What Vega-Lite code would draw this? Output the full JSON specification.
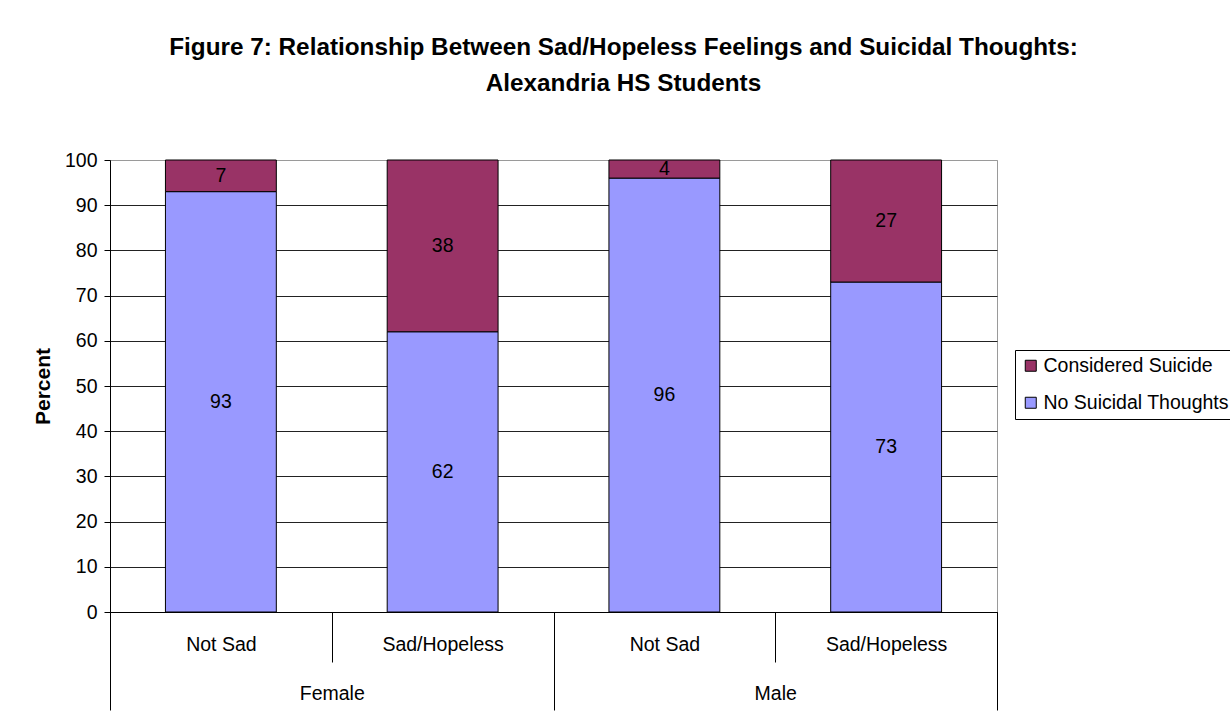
{
  "$schema": "https://vega.github.io/schema/vega-lite/v6.json",
  "width": 887,
  "height": 452,
  "autosize": {"type": "none"},
  "padding": {"left": 110, "top": 160, "right": 233, "bottom": 113},
  "background": "white",
  "title": {
    "text": [
      "Figure 7: Relationship Between Sad/Hopeless Feelings and Suicidal Thoughts:",
      "Alexandria HS Students"
    ],
    "font": "Liberation Sans",
    "fontSize": 24.3,
    "fontWeight": "bold",
    "color": "black",
    "lineHeight": 36,
    "limit": 1200,
    "anchor": "middle",
    "dx": 70,
    "offset": 54
  },
  "data": {
    "values": [
      {"gender": "Female", "mood": "Not Sad", "response": "No Suicidal Thoughts", "pct": 93},
      {"gender": "Female", "mood": "Not Sad", "response": "Considered Suicide", "pct": 7},
      {"gender": "Female", "mood": "Sad/Hopeless", "response": "No Suicidal Thoughts", "pct": 62},
      {"gender": "Female", "mood": "Sad/Hopeless", "response": "Considered Suicide", "pct": 38},
      {"gender": "Male", "mood": "Not Sad", "response": "No Suicidal Thoughts", "pct": 96},
      {"gender": "Male", "mood": "Not Sad", "response": "Considered Suicide", "pct": 4},
      {"gender": "Male", "mood": "Sad/Hopeless", "response": "No Suicidal Thoughts", "pct": 73},
      {"gender": "Male", "mood": "Sad/Hopeless", "response": "Considered Suicide", "pct": 27}
    ]
  },
  "transform": [
    {"calculate": "datum.gender + '|' + datum.mood", "as": "cell"},
    {
      "stack": "pct",
      "groupby": ["cell"],
      "sort": [{"field": "response", "order": "descending"}],
      "as": ["lo", "hi"]
    },
    {"calculate": "(datum.lo + datum.hi) / 2", "as": "mid"}
  ],
  "layer": [
    {
      "mark": {"type": "bar", "opacity": 0},
      "encoding": {
        "x": {
          "field": "gender",
          "type": "nominal",
          "scale": {"paddingInner": 0, "paddingOuter": 0},
          "axis": {
            "title": null,
            "orient": "bottom",
            "domain": false,
            "tickBand": "extent",
            "tickSize": 98,
            "tickColor": "black",
            "labelPadding": -26,
            "labelAngle": 0,
            "labelFontSize": 19.5,
            "labelColor": "black"
          }
        }
      }
    },
    {
      "encoding": {
        "x": {
          "field": "cell",
          "type": "nominal",
          "scale": {"paddingInner": 0, "paddingOuter": 0},
          "axis": {
            "title": null,
            "orient": "bottom",
            "labelExpr": "split(datum.label, '|')[1]",
            "tickBand": "extent",
            "tickSize": 50,
            "tickColor": "black",
            "domainColor": "black",
            "labelPadding": -27,
            "labelAngle": 0,
            "labelFontSize": 19.5,
            "labelColor": "black"
          }
        }
      },
      "layer": [
        {
          "mark": {"type": "bar", "width": {"band": 0.5}, "stroke": "black", "strokeWidth": 1},
          "encoding": {
            "y": {
              "field": "lo",
              "type": "quantitative",
              "title": "Percent",
              "scale": {"domain": [0, 100], "nice": false},
              "axis": {
                "values": [0, 10, 20, 30, 40, 50, 60, 70, 80, 90, 100],
                "grid": true,
                "gridColor": {"condition": {"test": "datum.value === 100", "value": "#9a9a9a"}, "value": "#222222"},
                "gridOpacity": 1,
                "domainColor": "black",
                "tickColor": "black",
                "tickSize": 6,
                "labelPadding": 7,
                "labelFontSize": 19.5,
                "labelColor": "black",
                "titleFontSize": 21,
                "titleFontWeight": "bold",
                "titleColor": "black",
                "titlePadding": 11
              }
            },
            "y2": {"field": "hi"},
            "color": {
              "field": "response",
              "type": "nominal",
              "scale": {
                "domain": ["Considered Suicide", "No Suicidal Thoughts"],
                "range": ["#993366", "#9999FF"]
              },
              "legend": {"title": null}
            }
          }
        },
        {
          "mark": {"type": "text", "fontSize": 19.5, "color": "black"},
          "encoding": {
            "y": {"field": "mid", "type": "quantitative", "title": "Percent"},
            "text": {"field": "pct", "type": "quantitative"}
          }
        }
      ]
    }
  ],
  "resolve": {"scale": {"x": "independent"}, "axis": {"x": "independent"}},
  "config": {
    "font": "Liberation Sans",
    "view": {"stroke": "#9a9a9a", "strokeWidth": 1},
    "legend": {
      "orient": "none",
      "legendX": 905,
      "legendY": 190,
      "strokeColor": "black",
      "strokeWidth": 1,
      "padding": 6,
      "symbolType": "square",
      "symbolSize": 121,
      "symbolStrokeColor": "black",
      "symbolStrokeWidth": 1,
      "symbolOpacity": 1,
      "labelFontSize": 19.5,
      "labelColor": "black",
      "labelLimit": 400,
      "labelOffset": 3,
      "rowPadding": 16
    }
  }
}
